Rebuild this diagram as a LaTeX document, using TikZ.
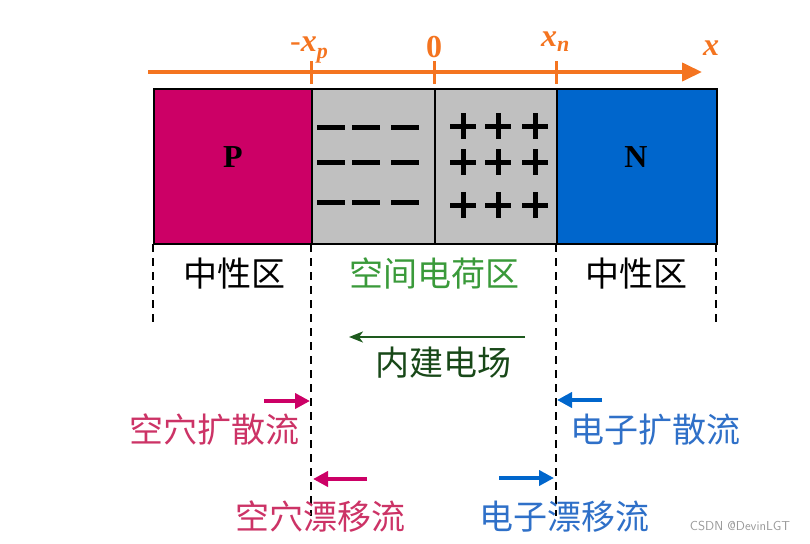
\documentclass[tikz,border=0pt]{standalone}
\usepackage{fontspec}
\setmainfont{Liberation Serif}
\newfontfamily\cjk{Noto Sans CJK SC}
\usetikzlibrary{arrows.meta}
\definecolor{axcol}{HTML}{F47420}
\definecolor{pcol}{HTML}{CC0066}
\definecolor{ncol}{HTML}{0066CC}
\definecolor{gcol}{HTML}{C0C0C0}
\definecolor{lgreen}{HTML}{3A9A3A}
\definecolor{dgreen}{HTML}{1E5A1E}
\definecolor{hcol}{HTML}{CC3366}
\definecolor{ecol}{HTML}{2F70C8}
\tikzset{
  region/.style={draw=black, line width=1.5pt, minimum height=155pt, inner sep=0pt, anchor=north west},
  tick/.style={axcol, line width=3pt},
  axlab/.style={axcol, font=\fontsize{32}{32}\selectfont\bfseries\itshape, inner sep=0pt},
  cjklab/.style={font=\cjk\fontsize{34}{34}\selectfont, inner sep=0pt},
  bound/.style={line width=1.6pt, dash pattern=on 8pt off 6pt},
  sym/.style={line width=5pt},
  flow/.style={line width=4pt, -{Triangle[length=15pt,width=15pt]}},
}
\begin{document}
\begin{tikzpicture}[x=1pt,y=-1pt]
\useasboundingbox (0,0) rectangle (810,543);
% regions
\node[region, fill=pcol, minimum width=158pt] (P) at (153,88) {};
\node[region, fill=gcol, minimum width=123pt] (SL) at (311,88) {};
\node[region, fill=gcol, minimum width=122pt] (SR) at (434,88) {};
\node[region, fill=ncol, minimum width=160pt] (N) at (556,88) {};
\node[font=\bfseries\fontsize{32}{32}\selectfont] (Pl) at (233,157) {P};
\node[font=\bfseries\fontsize{32}{32}\selectfont] (Nl) at (636,157) {N};
% minus signs
\foreach \yy in {127,162,202}{
  \foreach \xx in {331,366,405}{
    \draw[sym] (\xx-14,\yy) -- (\xx+14,\yy);
  }
}
% plus signs
\foreach \yy in {126,162,205}{
  \foreach \xx in {463,498,535}{
    \draw[sym] (\xx-13,\yy) -- (\xx+13,\yy);
    \draw[sym] (\xx,\yy-13) -- (\xx,\yy+13);
  }
}
% axis
\coordinate (a0) at (148,72);
\coordinate (a1) at (702,72);
\draw[axcol, line width=4pt, -{Triangle[length=20pt,width=18pt]}] (a0) -- (a1);
\draw[tick] (311,61) -- (311,84);
\draw[tick] (434,61) -- (434,84);
\draw[tick] (556,61) -- (556,84);
\node[axlab, anchor=base west] (lxp) at (290,52) {\upshape\mdseries-\bfseries\itshape x\raisebox{-7pt}{\fontsize{22}{22}\selectfont p}};
\node[axlab, anchor=base, font=\fontsize{32}{32}\selectfont\bfseries\upshape] (l0) at (434,57) {0};
\node[axlab, anchor=base west] (lxn) at (541,47) {x\raisebox{-5pt}{\fontsize{22}{22}\selectfont n}};
\node[axlab, anchor=base] (lx) at (711,56) {x};
% boundary dashed lines
\draw[bound] (153,244) -- (153,326);
\draw[bound] (311,244) -- (311,516);
\draw[bound] (556,244) -- (556,516);
\draw[bound] (716,244) -- (716,326);
% region labels
\node[cjklab] (n1) at (234,274) {中性区};
\node[cjklab, lgreen] (sc) at (434,273) {空间电荷区};
\node[cjklab] (n2) at (636,274) {中性区};
% built-in field
\coordinate (f0) at (525,337);
\coordinate (f1) at (349,337);
\draw[dgreen, line width=2.2pt, -{Stealth[length=14pt,width=11pt,inset=4pt]}] (f0) -- (f1);
\node[cjklab, dgreen!80!black] (fl) at (443,363) {内建电场};
% flows
\coordinate (hd0) at (264,401);
\coordinate (hd1) at (310,401);
\draw[flow, pcol] (hd0) -- (hd1);
\node[cjklab, hcol] (hdl) at (214,430) {空穴扩散流};
\coordinate (ed0) at (602,400);
\coordinate (ed1) at (557,400);
\draw[flow, ncol] (ed0) -- (ed1);
\node[cjklab, ecol] (edl) at (655,430) {电子扩散流};
\coordinate (hr0) at (367,479);
\coordinate (hr1) at (313,479);
\draw[flow, pcol] (hr0) -- (hr1);
\node[cjklab, hcol] (hrl) at (320,517) {空穴漂移流};
\coordinate (er0) at (499,478);
\coordinate (er1) at (554,478);
\draw[flow, ncol] (er0) -- (er1);
\node[cjklab, ecol] (erl) at (564,517) {电子漂移流};
% watermark
\node[font=\sffamily\fontsize{13}{13}\selectfont, black!40] (wm) at (740,526) {CSDN @DevinLGT};
\end{tikzpicture}
\end{document}
